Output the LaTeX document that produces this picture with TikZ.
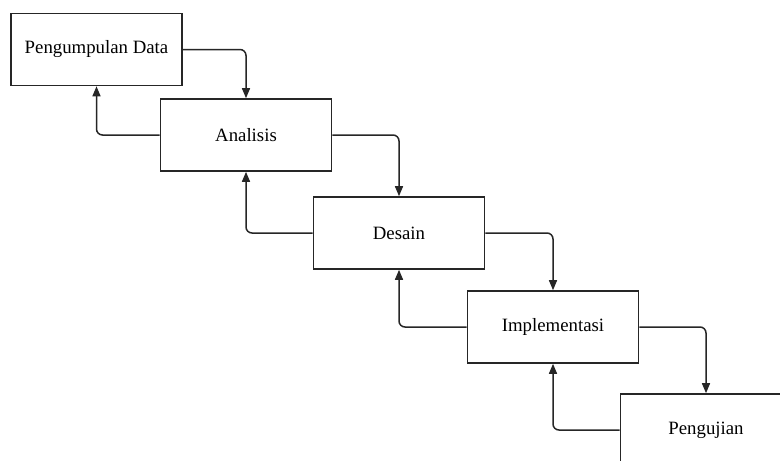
\documentclass[tikz,border=0pt]{standalone}
\usepackage{fontspec}
\setmainfont{Liberation Serif}
\usetikzlibrary{arrows.meta}
\begin{document}
\begin{tikzpicture}[x=1pt,y=-1pt,
  stage/.style={draw=black!85, line width=1.6pt, fill=white, minimum width=171pt, minimum height=72pt, inner sep=0pt, font=\fontsize{18.8}{21}\selectfont},
  flow/.style={draw=black!85, line width=1.5pt, rounded corners=6pt, -{Triangle[length=10pt,width=8pt]}}]
\useasboundingbox (0,0) rectangle (780,461);
\clip (0,0) rectangle (780,461);
\fill[white] (0,0) rectangle (780,461);
\node[stage] (b1) at (96.5,49.5) {Pengumpulan Data};
\node[stage] (b2) at (246,135) {Analisis};
\node[stage] (b3) at (399,233) {Desain};
\node[stage] (b4) at (553,327) {Implementasi};
\node[stage] (b5) at (706,430) {Pengujian};
\draw[flow] (b1.east) -| (b2.north);
\draw[flow] (b2.west) -| (b1.south);
\draw[flow] (b2.east) -| (b3.north);
\draw[flow] (b3.west) -| (b2.south);
\draw[flow] (b3.east) -| (b4.north);
\draw[flow] (b4.west) -| (b3.south);
\draw[flow] (b4.east) -| (b5.north);
\draw[flow] (b5.west) -| (b4.south);
\end{tikzpicture}
\end{document}
